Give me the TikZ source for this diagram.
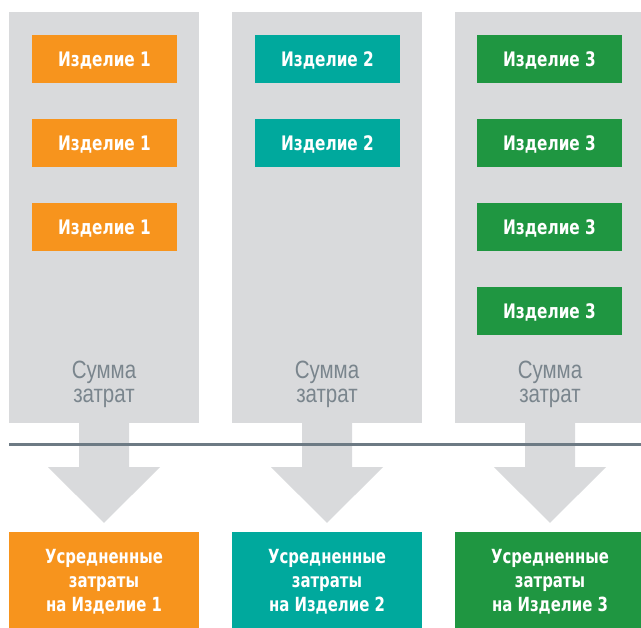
\documentclass[tikz,border=0pt]{standalone}
\usepackage{fontspec}
\setmainfont{Liberation Sans}[FakeStretch=0.82]
% bold narrow face: first one that is installed
\IfFontExistsTF{PTN77F.ttf}{%
  \newfontfamily\boldnarrow{PTN77F.ttf}[FakeStretch=1.0]}{%
\IfFontExistsTF{FiraSans-Bold.otf}{%
  \newfontfamily\boldnarrow{FiraSans-Bold.otf}[FakeStretch=0.82]}{%
\IfFontExistsTF{DejaVuSansCondensed-Bold.ttf}{%
  \newfontfamily\boldnarrow{DejaVuSansCondensed-Bold.ttf}[FakeStretch=0.85]}{%
  \newfontfamily\boldnarrow{DejaVu Sans}[FakeStretch=0.8]}}}
\usetikzlibrary{positioning, calc}
\definecolor{colgray}{HTML}{D9DADC}
\definecolor{itemorange}{HTML}{F7941D}
\definecolor{itemteal}{HTML}{00A99D}
\definecolor{itemgreen}{HTML}{1F9641}
\definecolor{rulegray}{HTML}{6D7A84}
\definecolor{sumgray}{HTML}{7A858D}

\begin{document}
\begin{tikzpicture}[
  x=1pt, y=-1pt,
  column/.style={fill=colgray, minimum width=190pt, minimum height=411pt, inner sep=0pt},
  item/.style={minimum width=145pt, minimum height=48pt, inner sep=0pt, text depth=0pt,
    text=white, font=\boldnarrow\bfseries\fontsize{20}{24}\selectfont},
  avgbox/.style={minimum width=190pt, minimum height=97pt, inner sep=0pt, text depth=0pt,
    text=white, align=center, font=\boldnarrow\bfseries\fontsize{19.5}{24}\selectfont},
  sumtext/.style={text=sumgray, align=center, font=\fontsize{25}{24}\selectfont},
]

% Page frame
\clip (0,0) rectangle (641,628);

% === Gray columns ===
\node[column] (col1) at (104,217.5) {};
\node[column] (col2) at (327,217.5) {};
\node[column] (col3) at (550,217.5) {};

% === Items: product 1 ===
\node[item, fill=itemorange] (item11) at (104.5,59) {Изделие 1};
\node[item, fill=itemorange] (item12) at (104.5,143) {Изделие 1};
\node[item, fill=itemorange] (item13) at (104.5,227) {Изделие 1};

% === Items: product 2 ===
\node[item, fill=itemteal] (item21) at (327.5,59) {Изделие 2};
\node[item, fill=itemteal] (item22) at (327.5,143) {Изделие 2};

% === Items: product 3 ===
\node[item, fill=itemgreen] (item31) at (549.5,59) {Изделие 3};
\node[item, fill=itemgreen] (item32) at (549.5,143) {Изделие 3};
\node[item, fill=itemgreen] (item33) at (549.5,227) {Изделие 3};
\node[item, fill=itemgreen] (item34) at (549.5,311) {Изделие 3};

% === Cost sums ===
\node[sumtext] (sum1) at (104,384.5) {Сумма\\затрат};
\node[sumtext] (sum2) at (327,384.5) {Сумма\\затрат};
\node[sumtext] (sum3) at (550,384.5) {Сумма\\затрат};

% === Averaged costs ===
\node[avgbox, fill=itemorange] (avg1) at (104,580.5) {Усредненные\\затраты\\на Изделие 1};
\node[avgbox, fill=itemteal] (avg2) at (327,580.5) {Усредненные\\затраты\\на Изделие 2};
\node[avgbox, fill=itemgreen] (avg3) at (550,580.5) {Усредненные\\затраты\\на Изделие 3};

% === Block arrows (column -> averaged box) ===
% shaft 50 wide, 44 long; head 112 wide, tip 8 above the box
\fill[colgray] ($(col1.south)+(-25,0)$) -- ($(col1.south)+(25,0)$) -- ++(0,44)
  -- ++(31,0) -- ($(avg1.north)+(0,-9)$) -- ($(col1.south)+(-56,44)$) -- ++(31,0) -- cycle;
\fill[colgray] ($(col2.south)+(-25,0)$) -- ($(col2.south)+(25,0)$) -- ++(0,44)
  -- ++(31,0) -- ($(avg2.north)+(0,-9)$) -- ($(col2.south)+(-56,44)$) -- ++(31,0) -- cycle;
\fill[colgray] ($(col3.south)+(-25,0)$) -- ($(col3.south)+(25,0)$) -- ++(0,44)
  -- ++(31,0) -- ($(avg3.north)+(0,-9)$) -- ($(col3.south)+(-56,44)$) -- ++(31,0) -- cycle;

% === Dividing rule ===
\coordinate (ruleL) at (9,444.5);
\coordinate (ruleR) at (641,444.5);
\draw[rulegray, line width=3pt] (ruleL) -- (ruleR);

\end{tikzpicture}
\end{document}
